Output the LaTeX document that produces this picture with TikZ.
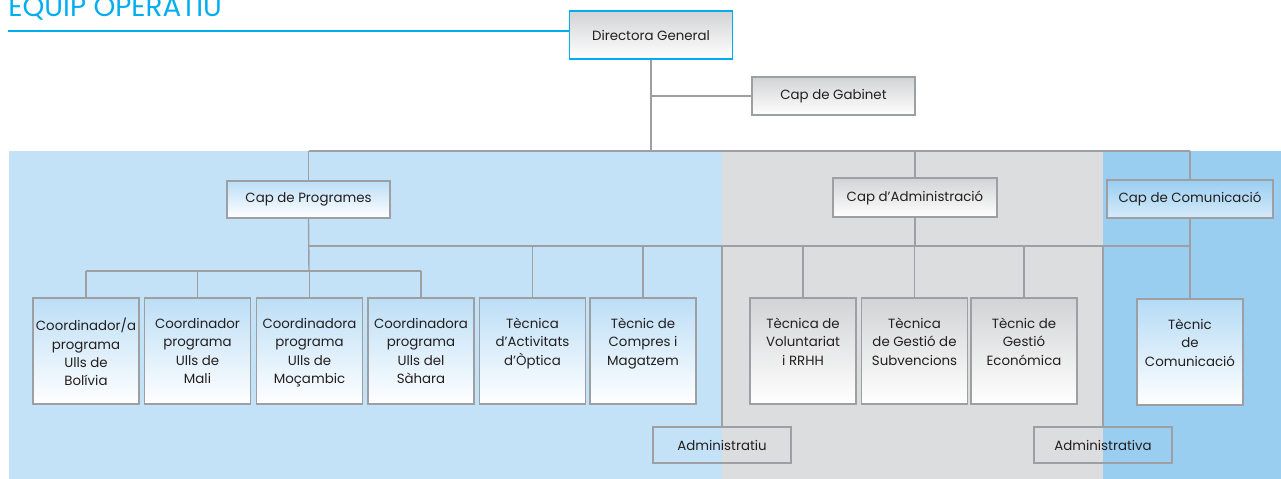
\documentclass[tikz,border=0pt]{standalone}
\usepackage{fontspec}
\setmainfont{Poppins}
\definecolor{cyantitle}{HTML}{00AEEF}
\definecolor{bgblue}{HTML}{C3E2F7}
\definecolor{bggray}{HTML}{DCDDDF}
\definecolor{bgdeep}{HTML}{99CEF1}
\definecolor{linegray}{HTML}{9D9FA2}
\definecolor{boxblue}{HTML}{BCDEF6}
\definecolor{boxgray}{HTML}{D2D3D5}
\definecolor{textgray}{HTML}{231F20}

\tikzset{
  post/.style={draw=linegray, line width=0.8pt, text=textgray,
    font=\fontsize{7.6}{10.5}\selectfont, inner sep=0pt},
  head/.style={post, minimum width=3.26cm, minimum height=0.76cm},
  unit/.style={post, minimum width=2.12cm, minimum height=2.12cm,
    label={[anchor=north, yshift=-0.29cm, align=center, text=textgray,
      font=\fontsize{7.6}{10.5}\selectfont]north:{#1}}},
  bluefill/.style={top color=boxblue, bottom color=white},
  grayfill/.style={top color=boxgray, bottom color=white},
  link/.style={draw=linegray, line width=0.8pt},
}

\begin{document}
\begin{tikzpicture}[x=0.02cm, y=-0.02cm]
  \useasboundingbox (0,0) rectangle (1281,479);

  % background bands
  \fill[bgblue] (9,151) rectangle (722,479);
  \fill[bggray] (722,151) rectangle (1103,479);
  \fill[bgdeep] (1103,151) rectangle (1281,479);

  % title
  \node[anchor=base west, inner sep=0pt, text=cyantitle,
    font=\fontsize{15.8}{16}\selectfont] (title) at (8,17) {EQUIP OPERATIU};
  \coordinate (rule) at (8,31);

  % heads
  \node[head, draw=cyantitle, line width=1pt, minimum height=0.96cm, grayfill] (dg) at (651,35) {Directora General};
  \node[head, grayfill] (gab) at (833.5,96) {Cap de Gabinet};
  \node[head, bluefill, minimum height=0.74cm] (prog) at (308.5,199.5) {Cap de Programes};
  \node[head, grayfill, minimum width=3.28cm, minimum height=0.78cm] (adm) at (915,197.5) {Cap d’Administració};
  \node[head, top color=bgdeep, bottom color=boxblue!60!white, minimum width=3.32cm] (com) at (1190,199) {Cap de Comunicació};

  % programes
  \node[unit={Coordinador/a\\programa\\Ulls de\\Bolívia}, bluefill] (bolivia) at (86,351) {};
  \node[unit={Coordinador\\programa\\Ulls de\\Mali}, bluefill] (mali) at (197.5,351) {};
  \node[unit={Coordinadora\\programa\\Ulls de\\Moçambic}, bluefill] (mocambic) at (309.5,351) {};
  \node[unit={Coordinadora\\programa\\Ulls del\\Sàhara}, bluefill] (sahara) at (421,351) {};
  \node[unit={Tècnica\\d’Activitats\\d’Òptica}, bluefill] (optica) at (532.5,351) {};
  \node[unit={Tècnic de\\Compres i\\Magatzem}, bluefill] (compres) at (643,351) {};

  % administracio
  \node[unit={Tècnica de\\Voluntariat\\i RRHH}, grayfill] (volunt) at (803,351) {};
  \node[unit={Tècnica\\de Gestió de\\Subvencions}, grayfill] (subv) at (914.5,351) {};
  \node[unit={Tècnic de\\Gestió\\Económica}, grayfill] (econ) at (1024,351) {};

  % comunicacio
  \node[unit={Tècnic\\de\\Comunicació}, top color=boxblue!80!bgdeep, bottom color=white] (tcom) at (1190,352) {};

  \node[post, minimum width=2.76cm, minimum height=0.72cm] (admtiu) at (722,445) {Administratiu};
  \node[post, minimum width=2.76cm, minimum height=0.72cm] (admtva) at (1103,445) {Administrativa};

  % lines
  \draw[cyantitle, line width=0.9pt] (rule) -- (rule -| dg.west);
  \coordinate (bus1) at (651,151);
  \coordinate (bus2) at (309,246);
  \coordinate (bus3) at (309,271);
  \draw[link] (dg.south) -- (bus1);
  \draw[link] (dg.south |- gab) -- (gab.west);
  \draw[link] (prog.north |- bus1) -- (com.north |- bus1);
  \foreach \n in {prog, adm, com} \draw[link] (\n.north |- bus1) -- (\n.north);
  \draw[link] (prog.south) -- (bus3);
  \draw[link] (bus2) -- (bus2 -| com);
  \draw[link] (bolivia.north |- bus3) -- (sahara.north |- bus3);
  \foreach \n in {bolivia, mali, mocambic, sahara} \draw[link] (\n.north |- bus3) -- (\n.north);
  \foreach \n in {optica, compres, volunt, subv, econ} \draw[link] (\n.north |- bus2) -- (\n.north);
  \draw[link] (adm.south) -- (adm.south |- bus2);
  \draw[link] (com.south) -- (tcom.north);
  \draw[link] (admtiu.north |- bus2) -- (admtiu.north);
  \draw[link] (admtva.north |- bus2) -- (admtva.north);
\end{tikzpicture}
\end{document}
